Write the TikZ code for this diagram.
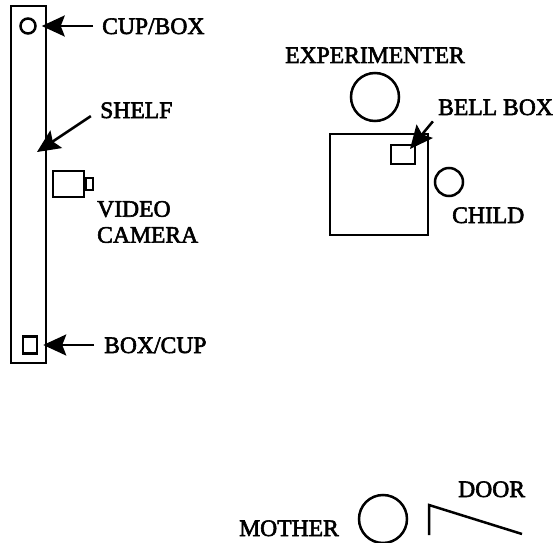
\documentclass[tikz,border=0pt]{standalone}
\usepackage{fontspec}
\setmainfont[BoldFont={Liberation Serif}, BoldFeatures={FakeBold=2.5}]{Liberation Serif}
\usetikzlibrary{arrows.meta}

\begin{document}
\begin{tikzpicture}[x=1pt, y=-1pt]
  \tikzset{
    outline/.style={
      draw,
      line width=2.5pt,
      inner sep=0pt,
      anchor=center
    },
    roundthing/.style={
      outline,
      circle
    },
    caption/.style={
      font=\fontsize{23.6}{26}\selectfont\bfseries,
      inner sep=0pt,
      anchor=west
    },
    singleline/.style={
      caption,
      text height=16pt,
      text depth=0pt
    },
    pointer/.style={
      line width=2.5pt,
      arrows={-Triangle[length=23pt, width=21pt, inset=4pt]}
    }
  }
  \useasboundingbox (0,0) rectangle (555,543);

  % Draw the shelf side
    \node[outline, minimum width=35pt, minimum height=357pt] at (28.5, 184.5) (shelf) {};
    \node[roundthing, minimum size=15pt] at (28, 26) (cupbox) {};
    \node[outline, minimum width=14pt, minimum height=17pt] at (30, 345) (boxcup) {};
    \node[outline, minimum width=31pt, minimum height=26pt] at (68.5, 184) (camera) {};
    \node[outline, anchor=west, minimum width=7pt, minimum height=12pt, line width=1.8pt] at (camera.east) (lens) {};

    \node[singleline] at (102, 26) (cuplabel) {CUP/BOX};
    \node[singleline] at (100, 110) (shelflabel) {SHELF};
    \node[caption, align=left] at (97, 222) (cameralabel) {VIDEO\\CAMERA};
    \node[singleline] at (104, 345) (boxlabel) {BOX/CUP};

    \coordinate (shelftip) at (37, 152);
    \draw[pointer, shorten <=9pt, shorten >=5pt] (cuplabel.west) -- (cupbox.east);
    \draw[pointer, shorten <=11pt] (shelflabel.west) -- (shelftip);
    \draw[pointer, shorten <=10pt, shorten >=5pt] (boxlabel.west) -- (boxcup.east);

  % Draw the table side
    \node[singleline] at (285, 55) (experimenterlabel) {EXPERIMENTER};
    \node[roundthing, minimum size=48pt] at (375, 97) (experimenter) {};
    \node[outline, minimum width=98pt, minimum height=101pt] at (379, 184.5) (tablebox) {};
    \node[outline, minimum width=24pt, minimum height=19pt] at (403, 154.5) (bellbox) {};
    \node[singleline] at (438, 107) (belllabel) {BELL BOX};
    \node[roundthing, minimum size=28pt] at (449, 182) (child) {};
    \node[singleline] at (452, 215) (childlabel) {CHILD};

    \coordinate (belltip) at (410, 149);
    \draw[pointer, shorten <=8pt] (belllabel.south west) -- (belltip);

  % Draw the door side
    \node[singleline] at (239, 528) (motherlabel) {MOTHER};
    \node[roundthing, minimum size=48pt] at (383, 519) (mother) {};
    \node[singleline] at (458, 489) (doorlabel) {DOOR};

    \coordinate (doorfoot) at (429, 535);
    \coordinate (doorhinge) at (429, 505);
    \coordinate (doorend) at (522, 534);
    \draw[line width=2.5pt] (doorfoot) -- (doorhinge) -- (doorend);
\end{tikzpicture}
\end{document}
